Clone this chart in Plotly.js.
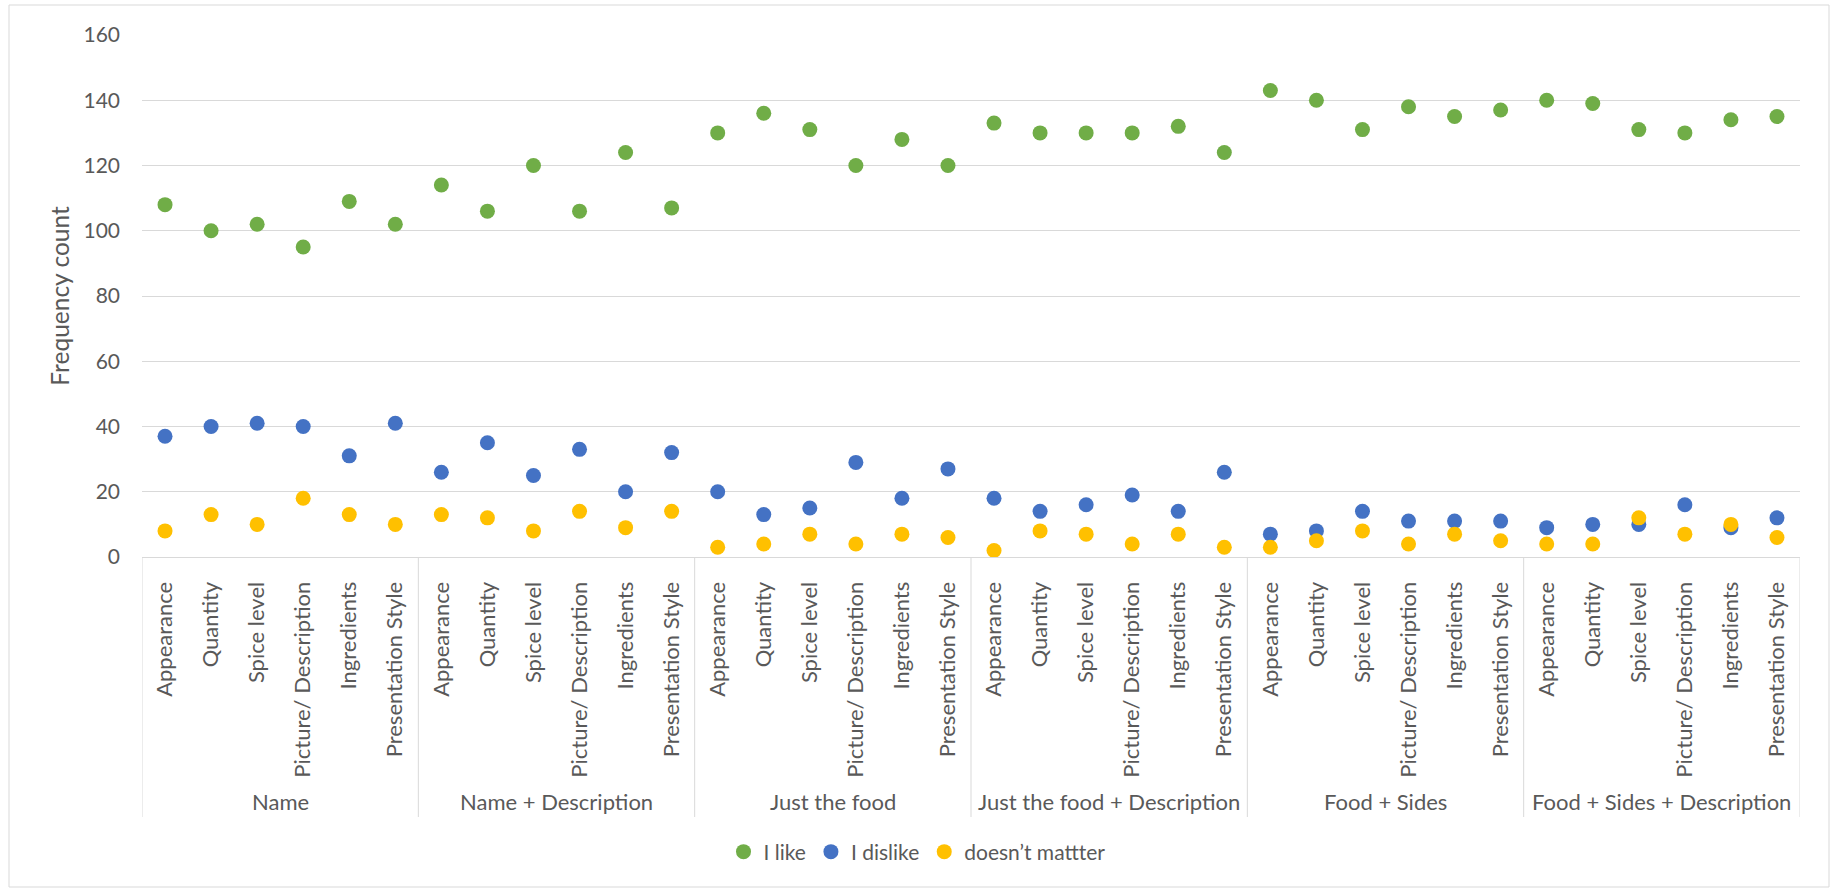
<!DOCTYPE html>
<html>
<head>
<meta charset="utf-8">
<script src="https://cdn.plot.ly/plotly-3.0.1.min.js"></script>
<style>html,body{margin:0;padding:0;background:#fff;}#chart{width:1831px;height:888px;}</style>
</head>
<body>
<div id="chart"></div>
<script>
const groups = ['Name', 'Name + Description', 'Just the food', 'Just the food + Description', 'Food + Sides', 'Food + Sides + Description'];
const aspects = ['Appearance', 'Quantity', 'Spice level', 'Picture/ Description', 'Ingredients', 'Presentation Style'];
const seriesNames = ['I like', 'I dislike', 'doesn\u2019t mattter'];
const likeValues = [108,100,102,95,109,102, 114,106,120,106,124,107, 130,136,131,120,128,120, 133,130,130,130,132,124, 143,140,131,138,135,137, 140,139,131,130,134,135];
const dislikeValues = [37,40,41,40,31,41, 26,35,25,33,20,32, 20,13,15,29,18,27, 18,14,16,19,14,26, 7,8,14,11,11,11, 9,10,10,16,9,12];
const doesntMatterValues = [8,13,10,18,13,10, 13,12,8,14,9,14, 3,4,7,4,7,6, 2,8,7,4,7,3, 3,5,8,4,7,5, 4,4,12,7,10,6];
const seriesColors = ['#70AD47', '#4472C4', '#FFC000'];

const FONT = 'Lato, "Liberation Sans", sans-serif';
const TXT = '#595959';
const GRID = '#D9D9D9';

// category positions
const tickText = [];
groups.forEach(() => aspects.forEach(a => tickText.push(a)));
const xs = tickText.map((_, i) => i);
const nA = aspects.length;

const allVals = [likeValues, dislikeValues, doesntMatterValues];
const traces = allVals.map((vals, k) => ({
  type: 'scatter', mode: 'markers', x: xs, y: vals, name: seriesNames[k],
  marker: {color: seriesColors[k], size: 15},
  cliponaxis: false
}));

// plot area geometry (px)
const W = 1831, H = 888;
const L = 142, R = 1800, T = 35, B = 557;
const pw = R - L, ph = B - T;
const px2x = p => (p - L) / pw;
const py2y = p => (B - p) / ph;

const shapes = [];
for (let g = 0; g <= groups.length; g++) {
  const xv = g * nA - 0.5;
  shapes.push({type: 'line', xref: 'x', yref: 'paper', x0: xv, x1: xv, y0: 0, y1: py2y(817),
    line: {color: GRID, width: 1}});
}
shapes.push({type: 'rect', xref: 'paper', yref: 'paper', x0: px2x(9), x1: px2x(1829), y0: py2y(887), y1: py2y(5),
  line: {color: GRID, width: 1}, fillcolor: 'rgba(0,0,0,0)', layer: 'below'});

const annotations = groups.map((g, i) => ({
  text: g, xref: 'x', yref: 'paper', x: i * nA + (nA - 1) / 2, y: py2y(801),
  xanchor: 'center', yanchor: 'middle', showarrow: false,
  font: {family: FONT, size: 22, color: TXT}
}));

const layout = {
  width: W, height: H,
  margin: {l: L, r: W - R, t: T, b: H - B, pad: 0},
  paper_bgcolor: '#fff', plot_bgcolor: '#fff',
  font: {family: FONT, size: 21, color: TXT},
  showlegend: true,
  legend: {orientation: 'h', x: px2x(917), xanchor: 'center', y: py2y(852), yanchor: 'middle',
    font: {family: FONT, size: 21, color: TXT}, itemsizing: 'trace', tracegroupgap: 0},
  xaxis: {
    range: [-0.5, xs.length - 0.5], tickmode: 'array', tickvals: xs, ticktext: tickText,
    tickangle: -90, showgrid: false, zeroline: false, showline: true, linecolor: GRID, linewidth: 1,
    ticks: '', ticklabelstandoff: 15, tickfont: {family: FONT, size: 22, color: TXT}, fixedrange: true
  },
  yaxis: {
    range: [0, 160], dtick: 20, tick0: 0, showgrid: true, gridcolor: GRID, gridwidth: 1,
    zeroline: false, showline: false, ticks: '', ticklabelstandoff: 21,
    tickfont: {family: FONT, size: 21, color: TXT},
    title: {text: 'Frequency count', font: {family: FONT, size: 24.5, color: TXT}, standoff: 6},
    fixedrange: true
  },
  shapes: shapes,
  annotations: annotations
};

Plotly.newPlot('chart', traces, layout, {staticPlot: true, displayModeBar: false});
</script>
</body>
</html>
